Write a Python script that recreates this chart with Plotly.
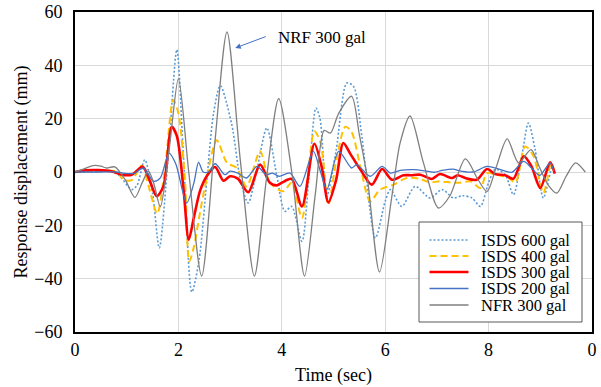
import plotly.graph_objects as go

# ---------------- data ----------------
series_names = ["ISDS 600 gal", "ISDS 400 gal", "ISDS 300 gal", "ISDS 200 gal", "NFR 300 gal"]

t_isds600 = [0, 0.3, 0.6, 0.75, 0.87, 1.1, 1.2, 1.35, 1.5, 1.63, 1.8, 1.97, 2.1, 2.26, 2.4, 2.55,
             2.68, 2.81, 3.03, 3.2, 3.35, 3.52, 3.71, 3.9, 4.06, 4.19, 4.39, 4.52, 4.66, 4.74,
             4.87, 5.05, 5.26, 5.39, 5.55, 5.81, 6.0, 6.1, 6.32, 6.58, 6.87, 7.1, 7.32, 7.5,
             7.68, 7.84, 8.0, 8.13, 8.32, 8.48, 8.65, 8.77, 8.9, 9.06, 9.23, 9.26]
v_isds600 = [0, 0, 0.3, 0, -1.6, -6.6, -5, 4.6, -8, -28.5, 5, 45.9, 5, -45, -33, -3,
             22, 32.4, 18, -3, -11.6, 1, 16.5, -1, -14.75, -12.9, -26, -3, 24, 20,
             -9, 8, 33.4, 32, 13, -24.75, -11, -6.6, -12.9, -5.4, -9.75, -6.6, -9.75, -8.9,
             -9.75, -12.9, -4, 1, -1, -8.5, 7, 18.4, 8.4, -9.75, 2, 0]

t_isds400 = [0, 0.3, 0.6, 0.8, 0.94, 1.1, 1.29, 1.42, 1.59, 1.75, 1.9, 2.0, 2.13, 2.21, 2.3, 2.42,
             2.52, 2.74, 2.94, 3.13, 3.32, 3.58, 3.77, 4.03, 4.19, 4.39, 4.63, 4.75, 4.9, 5.06,
             5.23, 5.35, 5.52, 5.71, 5.9, 6.16, 6.42, 6.65, 6.87, 7.05, 7.29, 7.45, 7.65, 7.84,
             7.97, 8.15, 8.39, 8.52, 8.71, 8.87, 9.06, 9.21, 9.26]
v_isds400 = [0, 0.3, 0.5, 0.2, -2.9, -3, 2.4, -5, -15.6, 3, 27, 22, -4, -33.5, -28, -15,
             -5, 11.9, 3.4, 1.5, -5.4, 7.75, -4, -7.25, -4, -17.25, 15.25, 10.9, -12.25, 5,
             17, 15, 2, -11, -6.6, -4.75, -2.25, -2.5, -3.9, -3.5, -4, -4, -3.5, -6,
             -0.4, -1, -2.25, -3.9, 9.6, 5.9, -7.9, 3.4, 1]

t_isds300 = [0, 0.2, 0.45, 0.7, 0.9, 1.1, 1.31, 1.45, 1.58, 1.71, 1.87, 1.97, 2.1, 2.2, 2.3, 2.42,
             2.55, 2.71, 2.87, 3.0, 3.15, 3.35, 3.58, 3.77, 3.9, 4.0, 4.19, 4.39, 4.63, 4.77,
             4.9, 5.05, 5.19, 5.32, 5.52, 5.74, 5.94, 6.13, 6.35, 6.5, 6.68, 6.9, 7.06, 7.29,
             7.4, 7.55, 7.77, 7.97, 8.13, 8.32, 8.48, 8.68, 8.83, 9.0, 9.19, 9.28]
v_isds300 = [0, 0.6, 0.7, 0.3, -1, -1, 2, -3.5, -9.1, -5.4, 16.9, 13.5, -6.6, -25.4, -17, -7,
             -1.5, 1.9, -3.25, -1.6, -2.5, -7.6, 2.75, -4, -5, -4, -2.6, -12.9, 10.6, 2,
             -11.4, -3, 10.9, 7, 0.9, -4.75, 1.1, -2.9, -1.25, -1.2, -1, -2.6, -0.75, -2.25,
             -1.2, -2.25, -2.9, 1.1, -0.8, -1.2, -2.5, 5.9, 2.1, -6, 3.6, -0.6]

t_isds200 = [0, 0.5, 0.8, 1.0, 1.15, 1.32, 1.52, 1.65, 1.82, 1.95, 2.16, 2.3, 2.39, 2.48, 2.58,
             2.71, 2.9, 3.0, 3.15, 3.32, 3.52, 3.7, 3.82, 3.95, 4.16, 4.35, 4.61, 4.75, 4.87,
             5.1, 5.35, 5.45, 5.71, 5.94, 6.1, 6.29, 6.55, 6.81, 6.95, 7.1, 7.32, 7.42, 7.7,
             7.97, 8.2, 8.45, 8.68, 8.83, 8.99, 9.19, 9.26]
v_isds200 = [0, 0, 0, -0.6, -0.5, 1.5, -3.5, -2.2, 7.1, 3, -11.6, -4.1, 3.6, 0, 0,
             3.1, -1, 0.3, -0.4, -2.25, 2.1, -1, -0.4, -1.6, -0.4, -5.4, 7.75, 0, -6.6,
             7.75, 1.5, 2.75, -1.6, 2.1, -0.4, 0.6, 0.9, 0.3, -0.1, 0.6, 1.1, 0.5, 0,
             2.1, 1.1, -0.1, 4, 1.5, -1.25, 3.4, 0.3]

t_nfr300 = [0, 0.15, 0.35, 0.5, 0.61, 0.77, 0.97, 1.16, 1.3, 1.42, 1.52, 1.65, 1.83, 2.0, 2.2,
            2.45, 2.7, 2.94, 3.2, 3.47, 3.7, 3.94, 4.2, 4.44, 4.65, 4.82, 4.94, 5.1, 5.35,
            5.5, 5.65, 5.89, 6.13, 6.29, 6.48, 6.74, 7.03, 7.25, 7.55, 7.8, 7.97, 8.15, 8.36,
            8.58, 8.82, 8.98, 9.15, 9.32, 9.5, 9.68, 9.87]
v_nfr300 = [0, 1, 2.4, 2.2, 1.5, 1.9, -2.9, -9.5, -4, 0.3, -4, -13, 10, 35, 0,
            -39, 10, 52.5, 4, -39, -3, 27.5, -1, -39, -8, 15.6, 14.6, 22, 28.4,
            14, -1.6, -37.5, -9, 11, 21, 3.4, -13.5, -9, 4.9, -3, -7.3, 2, 12.4,
            3.4, 8.4, 2, -4.8, -7.9, -1.6, 3.4, 0]

x_tick_vals = [0, 2, 4, 6, 8, 10]
x_tick_labels = ["0", "2", "4", "6", "8", "0"]
y_tick_vals = [-60, -40, -20, 0, 20, 40, 60]

annotation_text = "NRF 300 gal"

# ---------------- styling ----------------
FONT = "Liberation Serif, Tinos, Times New Roman, DejaVu Serif, serif"
styles = [
    dict(color="#5B9BD5", width=1.6, dash="2px,2px"),
    dict(color="#FFC000", width=2.0, dash="7px,4px"),
    dict(color="#FF0000", width=2.6, dash="solid"),
    dict(color="#4472C4", width=1.3, dash="solid"),
    dict(color="#7F7F7F", width=1.3, dash="solid"),
]
data_t = [t_isds600, t_isds400, t_isds300, t_isds200, t_nfr300]
data_v = [v_isds600, v_isds400, v_isds300, v_isds200, v_nfr300]

fig = go.Figure()
for name, t, v, st in zip(series_names, data_t, data_v, styles):
    fig.add_trace(go.Scatter(
        x=t, y=v, mode="lines", name=name, showlegend=False,
        line=dict(color=st["color"], width=st["width"], dash=st["dash"],
                  shape="spline", smoothing=0.8),
        hoverinfo="skip"))

W, H = 601, 387
ML, MR, MT, MB = 75, 9, 12, 55
PW, PH = W - ML - MR, H - MT - MB


def px_x(p):
    return (p - ML) / PW


def px_y(p):
    return (H - MB - p) / PH


# manual legend (box + samples + labels)
shapes = [dict(type="rect", xref="paper", yref="paper",
               x0=px_x(419), x1=px_x(582), y0=px_y(322), y1=px_y(222),
               line=dict(color="#595959", width=1), fillcolor="white", layer="above")]
annotations = []
row_px = [240, 256, 272, 288.5, 305]
for name, st, ry in zip(series_names, styles, row_px):
    shapes.append(dict(type="line", xref="paper", yref="paper",
                       x0=px_x(429.5), x1=px_x(468.5), y0=px_y(ry), y1=px_y(ry),
                       line=dict(color=st["color"], width=st["width"], dash=st["dash"]),
                       layer="above"))
    annotations.append(dict(xref="paper", yref="paper", x=px_x(479), y=px_y(ry),
                            text=name, showarrow=False, xanchor="left", yanchor="middle",
                            font=dict(family=FONT, size=16.5, color="black")))

# callout
annotations.append(dict(xref="paper", yref="paper", x=px_x(276), y=px_y(37),
                        text=annotation_text, showarrow=False, xanchor="left",
                        yanchor="middle", font=dict(family=FONT, size=17, color="black")))
annotations.append(dict(xref="x", yref="y", x=3.1, y=46.5, text="", showarrow=True,
                        ax=32, ay=-12, axref="pixel", ayref="pixel",
                        arrowhead=2, arrowsize=1.1, arrowwidth=1, arrowcolor="#4472C4"))

fig.update_layout(
    width=W, height=H,
    margin=dict(l=ML, r=MR, t=MT, b=MB, pad=0, autoexpand=False),
    paper_bgcolor="white", plot_bgcolor="white",
    font=dict(family=FONT, size=18, color="black"),
    shapes=shapes, annotations=annotations,
    showlegend=False,
)
fig.update_xaxes(
    range=[0, 10], tickvals=x_tick_vals, ticktext=x_tick_labels, automargin=False,
    showgrid=True, gridcolor="#D9D9D9", gridwidth=1, zeroline=False,
    showline=True, linecolor="black", linewidth=2, mirror=True,
    ticks="", tickfont=dict(family=FONT, size=18, color="black"),
    title=dict(text="Time (sec)", font=dict(family=FONT, size=18, color="black"), standoff=10),
)
fig.update_yaxes(
    range=[-60, 60], tickvals=y_tick_vals, automargin=False,
    showgrid=True, gridcolor="#D9D9D9", gridwidth=1, zeroline=False,
    showline=True, linecolor="black", linewidth=2, mirror=True,
    ticks="", ticklabelstandoff=7, tickfont=dict(family=FONT, size=18, color="black"),
    title=dict(text="Response displacement (mm)", font=dict(family=FONT, size=18, color="black"),
               standoff=2),
)

fig.write_html("out.html", config={"displayModeBar": False},
               post_script="document.body.style.margin='0';document.body.style.padding='0';")
